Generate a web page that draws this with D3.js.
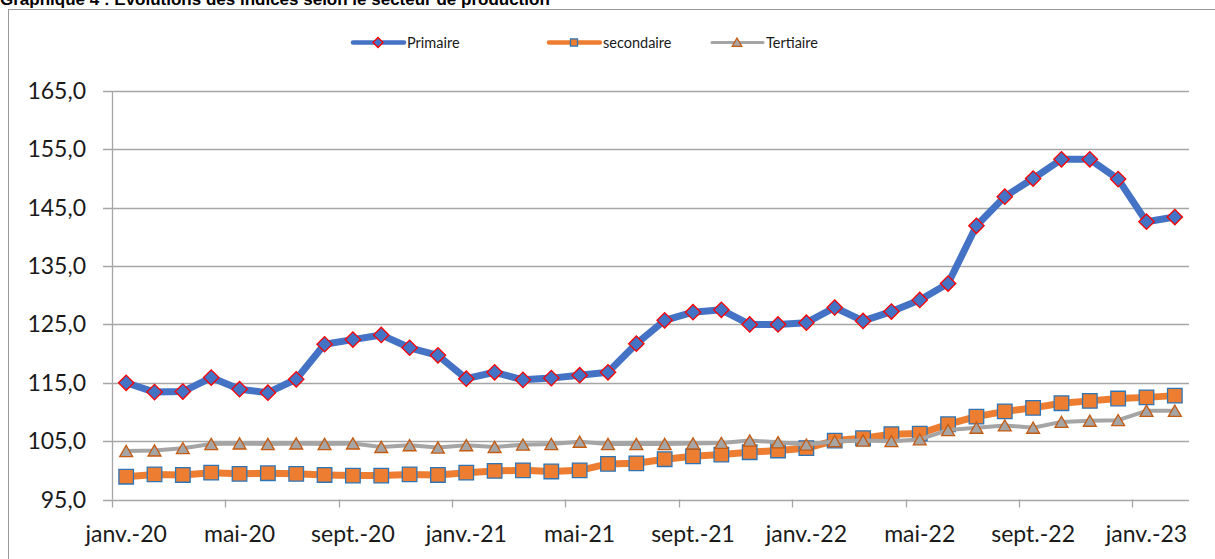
<!DOCTYPE html>
<html>
<head>
<meta charset="utf-8">
<script src="https://cdn.jsdelivr.net/npm/d3@7"></script>
<style>
  body { margin: 0; background: #fff; }
  svg { display: block; }
</style>
</head>
<body>
<svg id="chart" width="1215" height="559"></svg>
<script>
const months = [
  'janv.-20', 'févr.-20', 'mars-20', 'avr.-20', 'mai-20', 'juin-20', 'juil.-20', 'août-20', 'sept.-20', 'oct.-20', 'nov.-20', 'déc.-20',
  'janv.-21', 'févr.-21', 'mars-21', 'avr.-21', 'mai-21', 'juin-21', 'juil.-21', 'août-21', 'sept.-21', 'oct.-21', 'nov.-21', 'déc.-21',
  'janv.-22', 'févr.-22', 'mars-22', 'avr.-22', 'mai-22', 'juin-22', 'juil.-22', 'août-22', 'sept.-22', 'oct.-22', 'nov.-22', 'déc.-22',
  'janv.-23', 'févr.-23'
]
const primaire = [
  115.0, 113.4, 113.5, 115.9, 113.9, 113.3, 115.6, 121.6, 122.4, 123.2, 121.0, 119.7,
  115.7, 116.8, 115.5, 115.8, 116.3, 116.8, 121.7, 125.7, 127.1, 127.5, 125.0, 125.0,
  125.3, 127.9, 125.6, 127.2, 129.2, 132.0, 141.9, 146.9, 150.0, 153.3, 153.3, 149.9,
  142.6, 143.4
]
const secondaire = [
  98.9, 99.3, 99.2, 99.6, 99.4, 99.5, 99.4, 99.2, 99.1, 99.1, 99.3, 99.2,
  99.6, 99.9, 100.0, 99.8, 100.0, 101.1, 101.2, 101.9, 102.4, 102.7, 103.1, 103.4,
  103.8, 105.1, 105.5, 106.2, 106.3, 107.9, 109.2, 110.1, 110.7, 111.5, 111.9, 112.3,
  112.5, 112.8
]
const tertiaire = [
  103.3, 103.4, 103.8, 104.5, 104.6, 104.5, 104.6, 104.5, 104.6, 104.0, 104.3, 103.9,
  104.3, 104.0, 104.4, 104.5, 104.9, 104.5, 104.5, 104.5, 104.6, 104.7, 105.1, 104.8,
  104.4, 105.0, 105.1, 105.0, 105.3, 106.9, 107.3, 107.7, 107.3, 108.3, 108.5, 108.6,
  110.2, 110.2
]
const seriesNames = ['Primaire', 'secondaire', 'Tertiaire']
const yTicks = [95, 105, 115, 125, 135, 145, 155, 165]
const title = 'Graphique 4 : Evolutions des indices selon le secteur de production'

window.addEventListener('load', makeChart)

function makeChart() {
  const svg = d3.select('#chart')
  const left = 112, right = 1189, top = 91, bottom = 499.5
  const font = 'Lato, Calibri, sans-serif'

  // title, cropped at the top like the original
  svg.append('text')
    .attr('x', 0).attr('y', 5)
    .attr('font-family', '"Liberation Sans", Arial, sans-serif')
    .attr('font-weight', 'bold')
    .attr('font-size', 17)
    .text(title)

  // chart frame
  svg.append('rect')
    .attr('x', 8.5).attr('y', 9.5)
    .attr('width', 1220).attr('height', 600)
    .attr('fill', 'none')
    .attr('stroke', '#999')

  const x = d3.scaleBand().domain(months).range([left, right]).padding(0)
  const xc = (d) => x(d) + x.bandwidth() / 2
  const y = d3.scaleLinear().domain([95, 165]).range([bottom, top])

  // gridlines + y ticks
  svg.append('g')
    .selectAll('line')
    .data(yTicks)
    .enter()
    .append('line')
    .attr('x1', left - 9)
    .attr('x2', right)
    .attr('y1', (d) => Math.round(y(d)) + 0.5)
    .attr('y2', (d) => Math.round(y(d)) + 0.5)
    .attr('stroke', '#a6a6a6')
    .attr('stroke-width', 1.3)

  // y labels
  const fmt = d3.format('.1f')
  svg.append('g')
    .selectAll('text')
    .data(yTicks)
    .enter()
    .append('text')
    .attr('x', 86)
    .attr('y', (d) => y(d))
    .attr('dy', '0.35em')
    .attr('text-anchor', 'end')
    .attr('font-family', font)
    .attr('font-size', 23)
    .attr('fill', '#1a1a1a')
    .text((d) => fmt(d).replace('.', ','))

  // y axis line
  svg.append('line')
    .attr('x1', left + 0.5).attr('x2', left + 0.5)
    .attr('y1', top).attr('y2', bottom)
    .attr('stroke', '#a6a6a6')
    .attr('stroke-width', 1.3)

  // x ticks every 4 months at category boundaries
  const labelled = months.filter((d, i) => i % 4 === 0)
  svg.append('g')
    .selectAll('line')
    .data(labelled)
    .enter()
    .append('line')
    .attr('x1', (d) => Math.round(x(d)) + 0.5)
    .attr('x2', (d) => Math.round(x(d)) + 0.5)
    .attr('y1', bottom)
    .attr('y2', bottom + 8)
    .attr('stroke', '#a6a6a6')
    .attr('stroke-width', 1.3)

  svg.append('g')
    .selectAll('text')
    .data(labelled)
    .enter()
    .append('text')
    .attr('x', xc)
    .attr('y', 542)
    .attr('text-anchor', 'middle')
    .attr('font-family', font)
    .attr('font-size', 23)
    .attr('fill', '#1a1a1a')
    .text((d) => d)

  const line = d3.line().x((d, i) => xc(months[i])).y((d) => y(d))

  const styles = [
    { data: primaire, color: '#4472C4', width: 7, marker: 'diamond', mfill: '#4472C4', mstroke: '#FF0000', size: 118 },
    { data: secondaire, color: '#ED7D31', width: 7, marker: 'square', mfill: '#ED7D31', mstroke: '#2E75B6', size: 212 },
    { data: tertiaire, color: '#A5A5A5', width: 4, marker: 'triangle', mfill: '#A5A5A5', mstroke: '#C55A11', size: 72 },
  ]
  const symbols = { diamond: d3.symbolSquare, square: d3.symbolSquare, triangle: d3.symbolTriangle }

  function marker(st, size) {
    return d3.symbol().type(symbols[st.marker]).size(size)()
  }

  styles.forEach((st) => {
    const g = svg.append('g')
    g.append('path')
      .datum(st.data)
      .attr('d', line)
      .attr('fill', 'none')
      .attr('stroke', st.color)
      .attr('stroke-width', st.width)
      .attr('stroke-linejoin', 'round')
      .attr('stroke-linecap', 'round')

    g.selectAll('path.m')
      .data(st.data)
      .enter()
      .append('path')
      .attr('class', 'm')
      .attr('d', marker(st, st.size))
      .attr('transform', (d, i) => {
        const rot = st.marker === 'diamond' ? ' rotate(45)' : ''
        const dy = st.marker === 'triangle' ? 1.8 : 0
        return 'translate(' + xc(months[i]) + ',' + (y(d) + dy) + ')' + rot
      })
      .attr('fill', st.mfill)
      .attr('stroke', st.mstroke)
      .attr('stroke-width', 1.3)
  })

  // legend
  const legX = [353, 549, 712]
  const leg = svg.append('g')
  styles.forEach((st, i) => {
    const lx = legX[i], ly = 42.5
    leg.append('line')
      .attr('x1', lx).attr('x2', lx + 51)
      .attr('y1', ly).attr('y2', ly)
      .attr('stroke', st.color)
      .attr('stroke-width', st.width === 7 ? 4.5 : 3)
      .attr('stroke-linecap', 'round')
    const rot = st.marker === 'diamond' ? ' rotate(45)' : ''
    leg.append('path')
      .attr('d', marker(st, st.marker === 'triangle' ? 40 : 50))
      .attr('transform', 'translate(' + (lx + 25) + ',' + (ly + (st.marker === 'triangle' ? 1 : 0)) + ')' + rot)
      .attr('fill', st.mfill)
      .attr('stroke', st.mstroke)
      .attr('stroke-width', 1.3)
    leg.append('text')
      .attr('x', lx + 54)
      .attr('y', ly)
      .attr('dy', '0.35em')
      .attr('font-family', font)
      .attr('font-size', 14.5)
      .attr('fill', '#1a1a1a')
      .text(seriesNames[i])
  })
}
</script>
</body>
</html>
